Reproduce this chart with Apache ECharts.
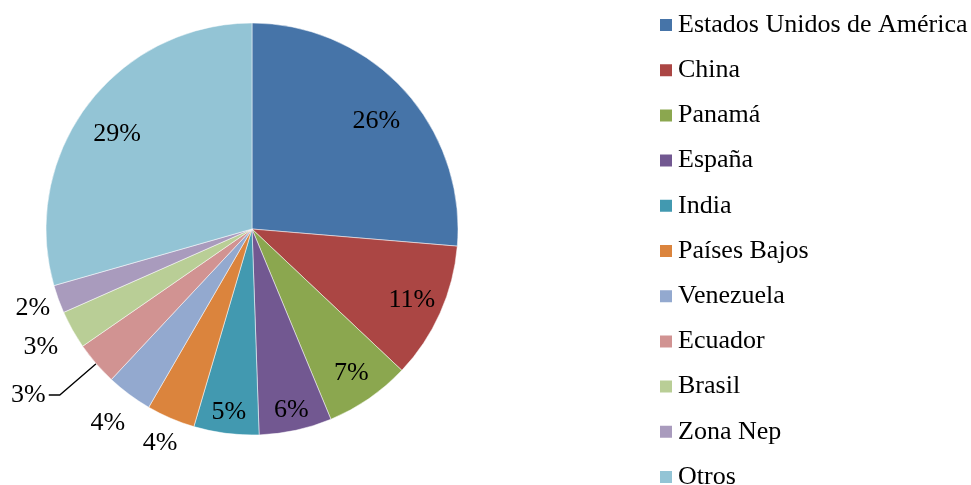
<!DOCTYPE html>
<html>
<head>
<meta charset="utf-8">
<script src="https://cdn.jsdelivr.net/npm/echarts@6/dist/echarts.min.js"></script>
<style>
  html, body { margin: 0; padding: 0; background: #fff; }
  #chart { width: 971px; height: 485px; }
</style>
</head>
<body>
<div id="chart"></div>
<script>
// países y porcentaje de cada uno
const countries = ['Estados Unidos de América', 'China', 'Panamá', 'España', 'India',
  'Países Bajos', 'Venezuela', 'Ecuador', 'Brasil', 'Zona Nep', 'Otros']
const shares = [26.3, 10.7, 6.7, 5.7, 5.1, 3.8, 3.6, 3.4, 3.0, 2.2, 29.4]
const colors = ['#4674A8', '#AB4644', '#8BA74F', '#725891', '#4299B0',
  '#DB843D', '#93A9CF', '#D19392', '#B9CE96', '#A99BBD', '#93C4D5']

// anillos donde se escriben las etiquetas (distancia al centro)
const labelRings = [
  { radius: 166, offset: [0, 7], names: ['Estados Unidos de América', 'Otros'] },
  { radius: 172, offset: [0, 0], names: ['China', 'Panamá'] },
  { radius: 182, offset: [0, 0], names: ['España', 'India'] },
  { radius: 230, offset: [0, 0], names: ['Países Bajos', 'Zona Nep'] },
  { radius: 239, offset: [0, 0], names: ['Venezuela', 'Brasil'] }
]
// etiqueta fuera con línea guía
const leaderLabel = 'Ecuador'

const font = 'Liberation Serif, Times New Roman, serif'
const total = shares.reduce((s, v) => s + v, 0)
const pct = (p) => Math.round(p.value / total * 100) + '%'

const center = [252, 229]

// serie transparente que sólo coloca el texto
function labelSeries(ring) {
  return {
    type: 'pie',
    silent: true,
    center,
    radius: [0, ring.radius * 2],
    startAngle: 90,
    avoidLabelOverlap: false,
    itemStyle: { color: 'rgba(0,0,0,0)', borderWidth: 0 },
    labelLine: { show: false },
    emphasis: { disabled: true },
    data: countries.map((name, i) => ({
      name,
      value: shares[i],
      label: {
        show: ring.names.includes(name),
        position: 'inside',
        rotate: 0,
        offset: ring.offset,
        color: '#000',
        fontFamily: font,
        fontSize: 26,
        formatter: pct
      }
    }))
  }
}

const chart = echarts.init(document.getElementById('chart'))

chart.setOption({
  animation: false,
  legend: {
    orient: 'vertical',
    left: 653,
    top: 7,
    height: 490,
    itemWidth: 14,
    itemHeight: 14,
    itemGap: 19.2,
    icon: 'rect',
    selectedMode: false,
    data: countries,
    textStyle: {
      fontFamily: font,
      fontSize: 26,
      lineHeight: 26,
      color: '#000'
    }
  },
  series: [
    {
      type: 'pie',
      center,
      radius: [0, 206],
      startAngle: 90,
      avoidLabelOverlap: false,
      itemStyle: { borderColor: '#fff', borderWidth: 0.5 },
      emphasis: { disabled: true },
      data: countries.map((name, i) => ({
        name,
        value: shares[i],
        itemStyle: { color: colors[i] },
        label: {
          show: name === leaderLabel,
          position: 'outside',
          color: '#000',
          fontFamily: font,
          fontSize: 26,
          distanceToLabelLine: 3,
          formatter: pct
        },
        labelLine: {
          show: name === leaderLabel,
          length: 48,
          length2: 11,
          lineStyle: { color: '#000', width: 1.3 }
        }
      }))
    },
    ...labelRings.map(labelSeries)
  ]
})
</script>
</body>
</html>
